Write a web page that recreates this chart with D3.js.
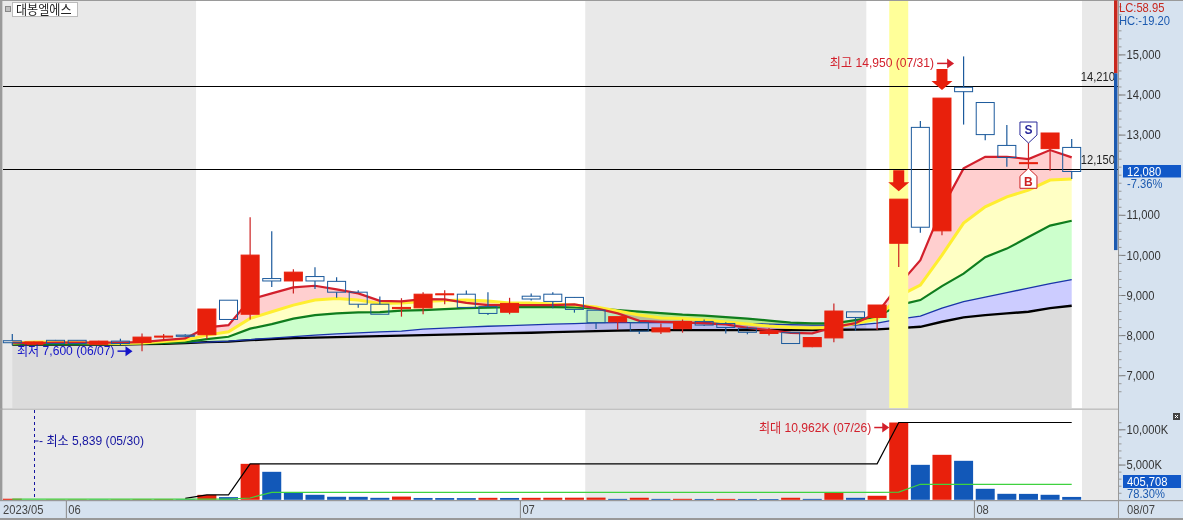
<!DOCTYPE html>
<html>
<head>
<meta charset="utf-8">
<script src="https://cdn.jsdelivr.net/npm/d3@7"></script>
<style>
  html, body { margin: 0; padding: 0; background: #fff; overflow: hidden; }
  text { font-family: "Liberation Sans", "Noto Sans CJK KR", sans-serif; font-size: 13px; }
  .fill { mix-blend-mode: multiply; }
</style>
</head>
<body>
<div id="chart"></div>
<script>
// trading days, 2023
var dates = ["05/26","05/30","05/31","06/01","06/02","06/05","06/07","06/08","06/09","06/12",
  "06/13","06/14","06/15","06/16","06/19","06/20","06/21","06/22","06/23","06/26",
  "06/27","06/28","06/29","06/30","07/03","07/04","07/05","07/06","07/07","07/10",
  "07/11","07/12","07/13","07/14","07/17","07/18","07/19","07/20","07/21","07/24",
  "07/25","07/26","07/27","07/28","07/31","08/01","08/02","08/03","08/04","08/07"];

var open = [7860,7770,7870,7870,7770,7850,7820,7950,8000,8010,8870,8520,9410,9350,9460,9340,9070,8770,8660,8680,9010,9020,8710,8570,8970,9020,8940,8620,8330,8310,8080,8160,8340,8290,8170,8040,8060,7710,7930,8580,8440,10290,13180,10600,14180,13800,12730,12290,12650,12680];
var close = [7810,7830,7790,7790,7850,7790,7950,7975,7970,8650,8390,9995,9350,9570,9350,9070,8770,8520,8690,9020,9030,8690,8540,8790,8900,8840,8640,8310,8460,8100,8180,8340,8250,8190,8070,8100,7790,7940,8600,8440,8750,11390,10690,13910,14070,13000,12430,12300,13040,12080];
var high = [8030,7840,7880,7880,7860,7910,8040,8030,8020,8650,8870,10940,10590,9640,9690,9440,9120,8960,8920,9070,9120,9110,9070,8930,9040,9070,8950,8620,8460,8360,8290,8390,8390,8320,8210,8180,8070,7950,8790,8580,8750,11390,13340,13910,14950,13800,13240,12790,13040,12890];
var low = [7750,7760,7780,7780,7760,7750,7600,7860,7950,7900,8390,8390,9200,9040,9150,8930,8680,8520,8460,8520,8770,8690,8500,8520,8860,8670,8560,8150,8130,8030,8030,8060,8230,8040,8020,7990,7790,7700,7820,8110,8130,9700,10550,10490,13250,12860,12200,12160,12100,11890];

// moving averages, shortest first
var maRed = [7810,7800,7810,7810,7810,7810,7825,7875,7918,8192,8249,8890,9040,9190,9230,9140,9040,8855,8840,8898,8890,8805,8748,8748,8748,8748,8766,8666,8541,8357,8332,8317,8292,8267,8182,8125,8057,8042,8200,8300,8549,9247,9870,11167,12157,12447,12447,12390,12614,12432];
var maYellow = [7800,7825,7825,7813,7800,7788,7800,7838,7875,8000,8082,8416,8581,8748,8873,8915,8873,8791,8798,8835,8860,8873,8848,8798,8798,8773,8748,8698,8599,8499,8424,8412,8374,8324,8274,8224,8187,8175,8192,8287,8399,8973,9247,9995,10793,11200,11449,11616,11866,11891];
var maGreen = [7776,7776,7776,7776,7776,7776,7788,7800,7825,7900,7958,8162,8274,8412,8499,8541,8566,8574,8611,8624,8648,8673,8686,8698,8706,8698,8691,8666,8624,8586,8549,8511,8486,8449,8412,8362,8312,8292,8292,8374,8456,8748,8873,9222,9534,9945,10157,10444,10731,10851];
var maBlue = [7776,7776,7776,7776,7776,7776,7788,7800,7813,7825,7850,7888,7925,7963,8000,8030,8055,8080,8100,8150,8175,8200,8219,8237,8254,8274,8287,8304,8312,8312,8312,8312,8307,8299,8287,8274,8262,8249,8249,8249,8299,8399,8474,8673,8835,8948,9060,9172,9284,9384];
var maBlack = [7763,7763,7763,7763,7763,7763,7776,7783,7800,7825,7838,7875,7900,7925,7938,7950,7963,7975,7988,8000,8012,8025,8037,8050,8057,8075,8087,8100,8112,8120,8125,8125,8125,8125,8125,8125,8125,8125,8132,8137,8142,8175,8207,8332,8441,8499,8541,8581,8673,8731];

// volume in thousands
var volume = [150,5.839,40,50,40,60,80,90,70,700,380,5100,3970,1040,710,430,420,280,460,260,250,240,280,260,280,290,300,310,130,290,130,140,120,130,120,110,290,130,1000,280,570,10962,4960,6380,5530,1560,850,840,710,406];
var volPeak = [null,null,null,null,null,null,null,null,210,700,700,5100,5100,5100,5100,5100,5100,5100,5100,5100,5100,5100,5100,5100,5100,5100,5100,5100,5100,5100,5100,5100,5100,5100,5100,5100,5100,5100,5100,5100,5100,10962,10962,10962,10962,10962,10962,10962,10962,10962];
var volAvg = [110,110,110,110,110,110,110,110,110,110,110,255,1060,1040,1040,1040,1040,1040,1040,1040,1040,1040,1040,1040,1040,1040,1040,1040,1040,1040,1040,1040,1040,1040,1040,1040,1040,1040,1040,1040,1040,1100,2200,2200,2200,2200,2200,2200,2200,2200];

// 12,000 sits under the last price box, so it has no label
var priceTicks = [7000,8000,9000,10000,11000,13000,14000,15000];
var volumeTicks = [5000,10000];
var hLines = [14210,12150];
var monthStarts = [["06/01","06"],["07/03","07"],["08/01","08"]];
var railValues = [16350,14530,10120];

var width = 1183, height = 520, plotLeft = 3, plotRight = 1118;

var svg = d3.select("#chart").append("svg")
  .attr("width", width)
  .attr("height", height)
  .style("display", "block");

var x = d3.scalePoint().domain(dates).range([12.3, 1071.7]);
var step = x.step();
var barW = 19;
var y = d3.scaleLinear().domain([7000, 15000]).range([375.2, 54.4]);
var yV = d3.scaleLinear().domain([0, 10000]).range([499.8, 429.3]);
var mainBottom = 408, volTop = 410;

// backgrounds
svg.append("rect").attr("x", plotRight).attr("y", 0).attr("width", width - plotRight).attr("height", height).attr("fill", "#d6e2ef");
svg.append("rect").attr("x", 0).attr("y", 501).attr("width", width).attr("height", 17).attr("fill", "#d6e2ef");

var shades = [[plotLeft, x("06/09") + step / 2], [x("07/06") - step / 2, x("07/25") - step / 2], [x("08/07") + step / 2 - 0.5, plotRight]];
[[1, mainBottom], [volTop, 500]].forEach(function (p) {
  svg.selectAll(null).data(shades).enter().append("rect")
    .attr("x", function (d) { return d[0]; })
    .attr("y", p[0])
    .attr("width", function (d) { return d[1] - d[0]; })
    .attr("height", p[1] - p[0])
    .attr("fill", "#e9e9e9");
});

// stacked bands between the averages
var layers = [
  [maRed, maYellow, "#ffcfcf"],
  [maYellow, maGreen, "#ffffc4"],
  [maGreen, maBlue, "#ccffcc"],
  [maBlue, maBlack, "#ccccff"]
];
layers.forEach(function (l) {
  svg.append("path")
    .attr("class", "fill")
    .attr("fill", l[2])
    .attr("d", d3.area()
      .x(function (d) { return x(d); })
      .y0(function (d, i) { return y(l[1][i]); })
      .y1(function (d, i) { return y(l[0][i]); })(dates));
});
svg.append("path")
  .attr("fill", "#dcdcdc")
  .attr("d", d3.area()
    .x(function (d) { return x(d); })
    .y0(mainBottom)
    .y1(function (d, i) { return y(maBlack[i]); })(dates));

var maLine = function (values) {
  return d3.line().x(function (d) { return x(d); }).y(function (d, i) { return y(values[i]); })(dates);
};
[[maBlack, "#000000", 2.4], [maBlue, "#1a35a8", 1.4], [maGreen, "#0f7d1e", 2.2], [maYellow, "#ffee30", 3], [maRed, "#d2202c", 2.2]].forEach(function (m) {
  svg.append("path").attr("fill", "none").attr("stroke", m[1]).attr("stroke-width", m[2]).attr("d", maLine(m[0]));
});

// highlighted day
svg.append("rect")
  .attr("x", x("07/26") - barW / 2)
  .attr("y", 1)
  .attr("width", barW)
  .attr("height", mainBottom - 1)
  .attr("fill", "#ffff99");

// level lines
svg.selectAll(".level").data(hLines).enter().append("line")
  .attr("class", "level")
  .attr("x1", plotLeft).attr("x2", plotRight)
  .attr("y1", function (d) { return Math.round(y(d)) + 0.5; })
  .attr("y2", function (d) { return Math.round(y(d)) + 0.5; })
  .attr("stroke", "#000");
svg.selectAll(".levelText").data(hLines).enter().append("text")
  .attr("x", 1115).attr("y", function (d) { return y(d) - 5; })
  .attr("text-anchor", "end").attr("fill", "#222")
  .text(d3.format(","));

// candles
var isUp = function (i) { return close[i] >= open[i]; };
var upColor = "#e8200c", downColor = "#1c5a9c";
var candle = svg.selectAll(".candle").data(dates).enter().append("g").attr("class", "candle");
candle.append("line")
  .attr("x1", function (d) { return x(d); })
  .attr("x2", function (d) { return x(d); })
  .attr("y1", function (d, i) { return y(high[i]); })
  .attr("y2", function (d, i) { return y(Math.max(open[i], close[i])); })
  .attr("stroke", function (d, i) { return isUp(i) ? "#cc2222" : downColor; })
  .attr("stroke-width", 1.2);
candle.append("line")
  .attr("x1", function (d) { return x(d); })
  .attr("x2", function (d) { return x(d); })
  .attr("y1", function (d, i) { return y(Math.min(open[i], close[i])); })
  .attr("y2", function (d, i) { return y(low[i]); })
  .attr("stroke", function (d, i) { return isUp(i) ? "#cc2222" : downColor; })
  .attr("stroke-width", 1.2);
candle.append("rect")
  .attr("x", function (d) { return x(d) - barW / 2 + 0.5; })
  .attr("y", function (d, i) { return y(Math.max(open[i], close[i])); })
  .attr("width", barW - 1)
  .attr("height", function (d, i) { return Math.max(1, Math.abs(y(open[i]) - y(close[i]))); })
  .attr("fill", function (d, i) { return isUp(i) ? upColor : "none"; })
  .attr("stroke", function (d, i) { return isUp(i) ? upColor : downColor; })
  .attr("stroke-width", 1);

// big down arrows over the two signal days
[["07/26", close[41]], ["07/28", close[43]]].forEach(function (a) {
  var cx = x(a[0]), tip = y(a[1]) - 8;
  svg.append("path")
    .attr("fill", "#e8200c")
    .attr("d", d3.line()([[cx - 5.5, tip - 21], [cx + 5.5, tip - 21], [cx + 5.5, tip - 9], [cx + 10.5, tip - 9], [cx, tip], [cx - 10.5, tip - 9], [cx - 5.5, tip - 9]]) + "Z");
});

// S and B markers on 08/03
var sx = x("08/03");
var sTip = y(high[47]), bTip = y(low[47]);
svg.append("path").attr("fill", "#fff").attr("stroke", "#2a2a9a")
  .attr("d", d3.line()([[sx, sTip], [sx + 8.5, sTip - 8], [sx + 8.5, sTip - 21], [sx - 8.5, sTip - 21], [sx - 8.5, sTip - 8]]) + "Z");
svg.append("text").attr("class", "mark").attr("x", sx).attr("y", sTip - 9).attr("text-anchor", "middle")
  .attr("fill", "#2a2a9a").style("font-weight", "bold").style("font-size", "12px").text("S");
svg.append("path").attr("fill", "#fff").attr("stroke", "#cc2222")
  .attr("d", d3.line()([[sx, bTip], [sx + 8.5, bTip + 8], [sx + 8.5, bTip + 20], [sx - 8.5, bTip + 20], [sx - 8.5, bTip + 8]]) + "Z");
svg.append("text").attr("class", "mark").attr("x", sx).attr("y", bTip + 18).attr("text-anchor", "middle")
  .attr("fill", "#cc2222").style("font-weight", "bold").style("font-size", "12px").text("B");

// high and low notes with their arrows
function arrowNote(tipX, tipY, len, color, label) {
  svg.append("line").attr("x1", tipX - len).attr("x2", tipX - 5).attr("y1", tipY).attr("y2", tipY).attr("stroke", color).attr("stroke-width", 1.5);
  svg.append("path").attr("fill", color)
    .attr("d", d3.line()([[tipX, tipY], [tipX - 7, tipY - 5], [tipX - 7, tipY + 5]]) + "Z");
  svg.append("text").attr("class", "note").attr("x", tipX - len - 3).attr("y", tipY + 4).attr("text-anchor", "end").attr("fill", color).text(label);
}
arrowNote(x("07/31") - barW / 2, y(14950) + 7, 17, "#d2202c", "최고 14,950 (07/31)");
arrowNote(x("06/07") - barW / 2, y(7600), 15, "#1414c8", "최저 7,600 (06/07)");

// volume bars
svg.selectAll(".vol").data(dates).enter().append("rect")
  .attr("class", "vol")
  .attr("x", function (d) { return x(d) - barW / 2; })
  .attr("y", function (d, i) { return yV(volume[i]); })
  .attr("width", barW)
  .attr("height", function (d, i) { return yV(0) - yV(volume[i]); })
  .attr("fill", function (d, i) { return i === 0 || volume[i] >= volume[i - 1] ? "#e8200c" : "#1258b8"; });

svg.append("path").attr("fill", "none").attr("stroke", "#000").attr("stroke-width", 1.2)
  .attr("d", d3.line()
    .defined(function (d, i) { return volPeak[i] !== null; })
    .x(function (d) { return x(d); })
    .y(function (d, i) { return yV(volPeak[i]); })(dates));
svg.append("path").attr("fill", "none").attr("stroke", "#3fd23f").attr("stroke-width", 1.2)
  .attr("d", d3.line()
    .x(function (d) { return x(d); })
    .y(function (d, i) { return yV(volAvg[i]); })(dates));

arrowNote(x("07/26") - barW / 2, yV(10962) + 5, 15, "#d2202c", "최대 10,962K (07/26)");

// smallest volume note
var minX = Math.round(x("05/30")) + 0.5;
svg.append("line").attr("x1", minX).attr("x2", minX).attr("y1", volTop).attr("y2", 497)
  .attr("stroke", "#1414a0").attr("stroke-dasharray", "3,3");
svg.append("line").attr("x1", minX).attr("x2", minX + 4).attr("y1", 441).attr("y2", 441).attr("stroke", "#1414a0");
svg.append("text").attr("class", "note").attr("x", 39).attr("y", 445).attr("fill", "#1414a0").text("- 최소 5,839 (05/30)");

// frame
svg.append("rect").attr("x", 0).attr("y", 0).attr("width", width).attr("height", 1).attr("fill", "#9a9a9a");
svg.append("rect").attr("x", 0).attr("y", 0).attr("width", 2.5).attr("height", 500).attr("fill", "#9a9a9a");
svg.append("rect").attr("x", 0).attr("y", 408.5).attr("width", plotRight).attr("height", 1.2).attr("fill", "#a8a8a8");
svg.append("rect").attr("x", 0).attr("y", 500).attr("width", width).attr("height", 1.2).attr("fill", "#999");
svg.append("rect").attr("x", 0).attr("y", 518).attr("width", width).attr("height", 2).attr("fill", "#999");
svg.append("rect").attr("x", plotRight).attr("y", 0).attr("width", 1).attr("height", 518).attr("fill", "#999");

// right axes
var priceAxis = svg.append("g").attr("transform", "translate(" + (plotRight + 0.5) + ",0)")
  .call(d3.axisRight(y).tickValues(priceTicks).tickSize(7).tickPadding(1).tickFormat(d3.format(",")));
priceAxis.select(".domain").remove();
priceAxis.selectAll("line").attr("stroke", "#777");
priceAxis.selectAll("text").attr("fill", "#333").style("font-size", "13px");

var priceMinor = svg.append("g").attr("transform", "translate(" + (plotRight + 0.5) + ",0)")
  .call(d3.axisRight(d3.scaleLinear().domain([7000, 16200]).range([y(7000), y(16200)]))
    .tickValues(d3.range(6600, 16400, 200)).tickSize(3).tickFormat(""));
priceMinor.select(".domain").remove();
priceMinor.selectAll("line").attr("stroke", "#999");

var volAxis = svg.append("g").attr("transform", "translate(" + (plotRight + 0.5) + ",0)")
  .call(d3.axisRight(yV).tickValues(volumeTicks).tickSize(7).tickPadding(1).tickFormat(function (d) { return d3.format(",")(d) + "K"; }));
volAxis.select(".domain").remove();
volAxis.selectAll("line").attr("stroke", "#777");
volAxis.selectAll("text").attr("fill", "#333").style("font-size", "13px");

var volMinor = svg.append("g").attr("transform", "translate(" + (plotRight + 0.5) + ",0)")
  .call(d3.axisRight(yV).tickValues(d3.range(0, 12000, 1000)).tickSize(3).tickFormat(""));
volMinor.select(".domain").remove();
volMinor.selectAll("line").attr("stroke", "#999");

// range rail next to the price axis
svg.append("rect").attr("x", 1114).attr("y", y(railValues[0])).attr("width", 3.5)
  .attr("height", y(railValues[1]) - y(railValues[0])).attr("fill", "#c8281e");
svg.append("rect").attr("x", 1114).attr("y", y(railValues[1])).attr("width", 3.5)
  .attr("height", y(railValues[2]) - y(railValues[1])).attr("fill", "#1c5ab0");

// rate labels
svg.append("text").attr("x", 1119).attr("y", 12).attr("fill", "#c8281e").text("LC:58.95");
svg.append("text").attr("x", 1119).attr("y", 25).attr("fill", "#1c5ab0").text("HC:-19.20");

// last price and last volume
svg.append("rect").attr("x", 1123).attr("y", y(12080) - 6.5).attr("width", 58).attr("height", 12.5).attr("fill", "#1158c8");
svg.append("text").attr("x", 1127).attr("y", y(12080) + 4.5).attr("fill", "#fff").text("12,080");
svg.append("text").attr("x", 1127).attr("y", 188).attr("fill", "#1c5ab0").text("-7.36%");
svg.append("rect").attr("x", 1123).attr("y", 475).attr("width", 58).attr("height", 13).attr("fill", "#1158c8");
svg.append("text").attr("x", 1127).attr("y", 486).attr("fill", "#fff").text("405,708");
svg.append("text").attr("x", 1127).attr("y", 498).attr("fill", "#1c5ab0").text("78.30%");

// panel close button
svg.append("rect").attr("x", 1173).attr("y", 413).attr("width", 7).attr("height", 7).attr("fill", "#444");
svg.append("path").attr("stroke", "#fff").attr("d", "M1175,415L1178,418M1178,415L1175,418");

// title box
svg.append("rect").attr("x", 5.5).attr("y", 6.5).attr("width", 5).attr("height", 5).attr("fill", "#c0c0c0").attr("stroke", "#888");
svg.append("rect").attr("x", 12.5).attr("y", 2.5).attr("width", 65).attr("height", 14).attr("fill", "#fff").attr("stroke", "#bbb");
svg.append("text").attr("class", "note").attr("x", 16).attr("y", 14).attr("fill", "#222").text("대봉엘에스");

// date strip
svg.append("text").attr("x", 3).attr("y", 514).attr("fill", "#444").text("2023/05");
svg.selectAll(".monthTick").data(monthStarts).enter().append("line")
  .attr("class", "monthTick")
  .attr("x1", function (d) { return x(d[0]) - step / 2; })
  .attr("x2", function (d) { return x(d[0]) - step / 2; })
  .attr("y1", 501).attr("y2", 518).attr("stroke", "#888");
svg.selectAll(".monthText").data(monthStarts).enter().append("text")
  .attr("class", "monthText")
  .attr("x", function (d) { return x(d[0]) - step / 2 + 2; })
  .attr("y", 514).attr("fill", "#444")
  .text(function (d) { return d[1]; });
svg.append("text").attr("x", 1127).attr("y", 514).attr("fill", "#444").text("08/07");

// the reference font is narrow, squeeze the text to fit
svg.selectAll("text").each(function () {
  var t = d3.select(this);
  if (t.classed("mark") || !this.textContent) return;
  var k = t.classed("note") ? 0.93 : 0.86;
  t.attr("textLength", this.getComputedTextLength() * k).attr("lengthAdjust", "spacingAndGlyphs");
});
</script>
</body>
</html>
